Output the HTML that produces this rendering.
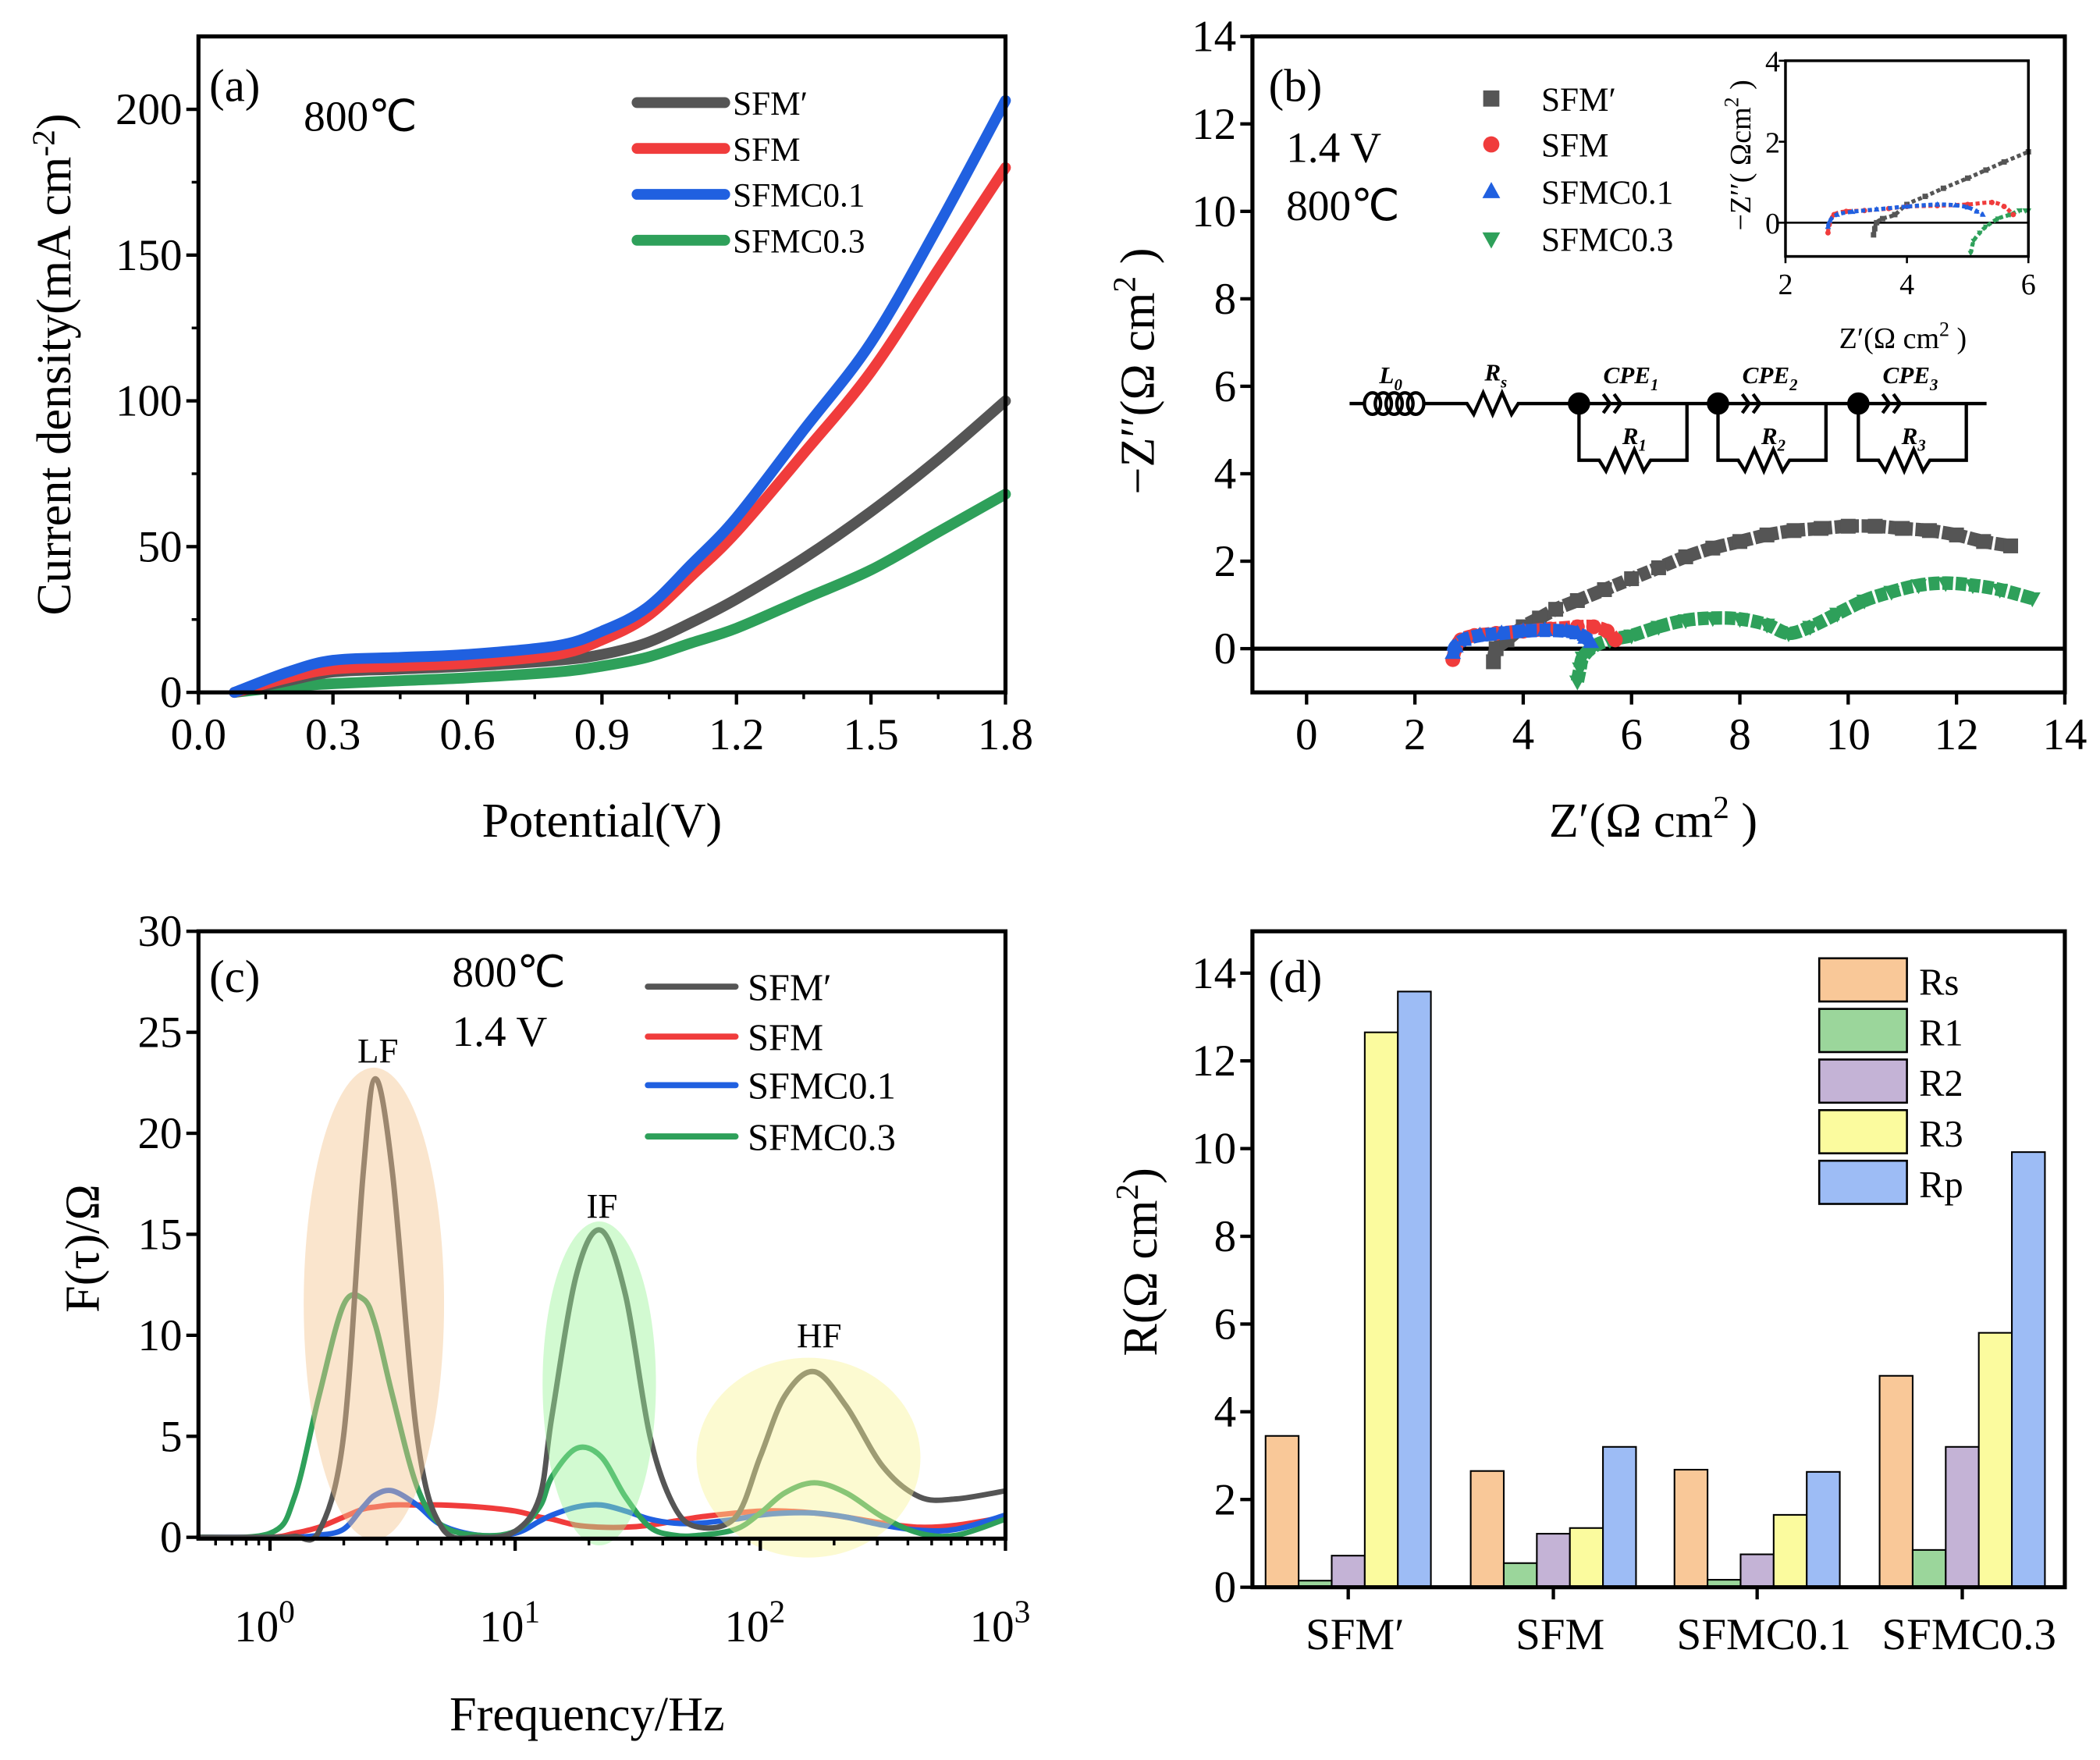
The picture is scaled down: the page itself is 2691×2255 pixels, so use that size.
<!DOCTYPE html>
<html><head><meta charset="utf-8">
<style>
html,body{margin:0;padding:0;background:#fff;}
svg{display:block;font-family:"Liberation Serif",serif;}
</style></head>
<body>
<svg id="fig" width="2691" height="2255" viewBox="0 0 1556 1304" xmlns="http://www.w3.org/2000/svg">
<g id="pa"></g>
<g id="pb"></g>
<g id="pc"></g>
<g id="pd"></g>
</svg>
<script>
// ---------- Panel (a) data ----------
const aSeriesNames = ["SFM′","SFM","SFMC0.1","SFMC0.3"];
const aV = [0.08,0.2,0.3,0.45,0.6,0.8,0.9,1.0,1.1,1.2,1.35,1.5,1.65,1.8];
const aSFMp = [0,4,7,8,9,11,13,17,24,32,46,62,80,100];
const aSFM = [0,5,8,9,10,13,18,26,40,55,82,110,145,180];
const aSFMC01 = [0,7,11,12,13,16,21,29,44,60,90,120,160,203];
const aSFMC03 = [0,2,3,4,5,7,9,12,17,22,32,42,55,68];
const aXTicks = [0,0.3,0.6,0.9,1.2,1.5,1.8];
const aXTickLabels = ["0.0","0.3","0.6","0.9","1.2","1.5","1.8"];
const aYTicks = [0,50,100,150,200];
// ---------- Panel (b) data ----------
const bGrayX = [3.45,3.5,3.7,4.0,4.3,4.6,5.0,5.5,6.0,6.5,7.0,7.5,8.0,8.5,9.0,9.5,10.0,10.5,11.0,11.5,12.0,12.5,13.0];
const bGrayY = [-0.3,0,0.2,0.5,0.7,0.9,1.1,1.35,1.6,1.85,2.1,2.3,2.45,2.6,2.7,2.75,2.8,2.8,2.75,2.7,2.6,2.45,2.35];
const bRedX = [2.7,2.75,2.85,3.1,3.5,4.0,4.5,5.0,5.3,5.55,5.7];
const bRedY = [-0.25,0,0.2,0.3,0.35,0.4,0.45,0.5,0.5,0.4,0.2];
const bBlueX = [2.7,2.75,2.9,3.2,3.6,4.0,4.4,4.8,5.0,5.15,5.25];
const bBlueY = [-0.1,0.05,0.2,0.3,0.35,0.4,0.42,0.4,0.35,0.25,0.15];
const bGreenX = [5.0,5.05,5.1,5.3,5.6,6.0,6.5,7.0,7.5,8.0,8.5,8.9,9.3,9.8,10.3,10.8,11.3,11.8,12.3,12.8,13.4];
const bGreenY = [-0.75,-0.45,-0.2,0.05,0.2,0.3,0.5,0.65,0.7,0.68,0.55,0.35,0.5,0.8,1.1,1.3,1.45,1.5,1.45,1.35,1.15];
const bXTicks = [0,2,4,6,8,10,12,14];
const bYTicks = [0,2,4,6,8,10,12,14];
// inset
const iGrayX = [3.45,3.47,3.5,3.6,3.8,4.0,4.3,4.6,5.0,5.3,5.6,6.0];
const iGrayY = [-0.3,-0.15,0,0.1,0.2,0.45,0.65,0.85,1.1,1.3,1.5,1.75];
const iRedX = [2.7,2.72,2.8,3.0,3.3,3.7,4.0,4.5,5.0,5.4,5.6,5.75];
const iRedY = [-0.25,-0.05,0.2,0.28,0.3,0.35,0.4,0.42,0.45,0.5,0.4,0.2];
const iBlueX = [2.7,2.73,2.85,3.1,3.5,4.0,4.5,4.8,5.0,5.15,5.25];
const iBlueY = [-0.1,0.05,0.2,0.27,0.33,0.4,0.45,0.43,0.38,0.28,0.2];
const iGreenX = [5.05,5.1,5.2,5.3,5.5,5.7,5.85,5.95,6.0];
const iGreenY = [-0.75,-0.45,-0.25,-0.1,0.1,0.2,0.3,0.3,0.3];
// ---------- Panel (c) data ----------
const cLogF = [-0.3,0,0.1,0.2,0.3,0.38,0.43,0.5,0.6,0.7,0.85,1.0,1.1,1.15,1.25,1.35,1.45,1.55,1.65,1.75,1.9,2.0,2.1,2.22,2.35,2.5,2.65,2.8,3.0];
const cSFMp = [0,0,0.05,0.3,5,18,22.7,18,5,0.5,0,0.3,2,6,13,15.2,12,5,1.5,0.5,1,4,7,8.2,6.5,3.5,2,1.9,2.3];
const cSFM = [0,0,0.2,0.5,1,1.4,1.5,1.6,1.6,1.6,1.5,1.3,1.0,0.9,0.6,0.5,0.5,0.6,0.8,1.0,1.2,1.3,1.3,1.2,1.0,0.7,0.5,0.6,1.0];
const cSFMC01 = [0,0,0,0.1,0.4,1.5,2.1,2.3,1.6,0.6,0.1,0.2,0.8,1.1,1.5,1.6,1.3,0.9,0.7,0.7,0.9,1.1,1.2,1.2,1.0,0.6,0.35,0.4,1.1];
const cSFMC03 = [0,0.2,2,7,11.5,11.8,10.5,7,2.5,0.6,0.1,0.3,1.5,3,4.4,4.0,2,0.5,0.1,0.1,0.4,1.2,2.2,2.7,2.2,1.0,0.2,0.1,0.9];
const cYTicks = [0,5,10,15,20,25,30];
const cXTickExp = [0,1,2,3];
// ---------- Panel (d) data ----------
const dGroups = ["SFM′","SFM","SFMC0.1","SFMC0.3"];
const dRs = [3.45,2.65,2.68,4.82];
const dR1 = [0.15,0.55,0.17,0.85];
const dR2 = [0.72,1.22,0.75,3.2];
const dR3 = [12.65,1.35,1.65,5.8];
const dRp = [13.58,3.2,2.63,9.92];
const dSeriesNames = ["Rs","R1","R2","R3","Rp"];
const dYTicks = [0,2,4,6,8,10,12,14];

const NS="http://www.w3.org/2000/svg";
function mk(parent,tag,attrs,text){const e=document.createElementNS(NS,tag);for(const k in attrs)e.setAttribute(k,attrs[k]);if(text!==undefined)e.textContent=text;parent.appendChild(e);return e;}
function lin(d0,d1,r0,r1){return v=>r0+(v-d0)*(r1-r0)/(d1-d0);}
function smoothPath(pts){
  let d="M"+pts[0][0]+","+pts[0][1];
  for(let i=0;i<pts.length-1;i++){
    const p0=pts[i-1]||pts[i],p1=pts[i],p2=pts[i+1],p3=pts[i+2]||p2;
    const c1=[p1[0]+(p2[0]-p0[0])/6,p1[1]+(p2[1]-p0[1])/6];
    const c2=[p2[0]-(p3[0]-p1[0])/6,p2[1]-(p3[1]-p1[1])/6];
    d+=" C"+c1[0]+","+c1[1]+" "+c2[0]+","+c2[1]+" "+p2[0]+","+p2[1];
  }
  return d;
}

// ===== Panel A =====
(function(){
const g=document.getElementById('pa');
const L=147,R=745,T=27,B=513;
const x=lin(0,1.8,L,R), y=lin(0,225,B,T);
const cols=["#555555","#f03c3c","#2060e0","#2ea05a"];
const data=[aSFMp,aSFM,aSFMC01,aSFMC03];
const order=[3,0,1,2];
order.forEach(i=>{
  const p=mk(g,'path',{d:smoothPath(aV.map((v,k)=>[x(v),y(data[i][k])])),fill:'none',stroke:cols[i],'stroke-width':8,'stroke-linecap':'round'});
  
  
});
const f=mk(g,'rect',{x:L,y:T,width:R-L,height:B-T,fill:'none',stroke:'#000','stroke-width':3});


aXTicks.forEach((t,i)=>{
  mk(g,'line',{x1:x(t),x2:x(t),y1:B,y2:B+9,stroke:'#000','stroke-width':2.5});
  const tx=mk(g,'text',{x:x(t),y:B+42,'font-size':33,'text-anchor':'middle'},aXTickLabels[i]);
  
  
});
aYTicks.forEach(t=>{
  mk(g,'line',{x1:L-9,x2:L,y1:y(t),y2:y(t),stroke:'#000','stroke-width':2.5});
  const tx=mk(g,'text',{x:L-12,y:y(t)+11,'font-size':33,'text-anchor':'end'},t);
  
  
});
[25,75,125,175].forEach(t=>mk(g,'line',{x1:L-5,x2:L,y1:y(t),y2:y(t),stroke:'#000','stroke-width':2}));
[0.15,0.45,0.75,1.05,1.35,1.65].forEach(t=>mk(g,'line',{x1:x(t),x2:x(t),y1:B,y2:B+5,stroke:'#000','stroke-width':2}));
let t=mk(g,'text',{x:446,y:620,'font-size':36,'text-anchor':'middle'},'Potential(V)');

t=mk(g,'text',{x:0,y:0,'font-size':36,'text-anchor':'middle',transform:'translate(52,270) rotate(-90)'});
t.innerHTML='Current density(mA cm<tspan dy="-12" font-size="24">-2</tspan><tspan dy="12">)</tspan>';

t=mk(g,'text',{x:155,y:75,'font-size':34},'(a)');
t=mk(g,'text',{x:225,y:97,'font-size':32},'800℃');
const ly=[76,110,144,178];
aSeriesNames.forEach((n,i)=>{
  const l=mk(g,'line',{x1:472,x2:537,y1:ly[i],y2:ly[i],stroke:cols[i],'stroke-width':8,'stroke-linecap':'round'});
  
  const tx=mk(g,'text',{x:543,y:ly[i]+9,'font-size':25},n);
  
});
})();

// ===== Panel B =====
(function(){
const g=document.getElementById('pb');
const L=928,R=1530,T=27,B=513;
const x=lin(-1,14,L,R), y=lin(-1,14,B,T);
const sets=[[bGrayX,bGrayY,'#555555','sq'],[bGreenX,bGreenY,'#2ea05a','tri-down'],[bRedX,bRedY,'#f03c3c','circ'],[bBlueX,bBlueY,'#2060e0','tri']];
const zl=mk(g,'line',{x1:L,x2:R,y1:y(0),y2:y(0),stroke:'#000','stroke-width':3});

function marker(gg,type,cx,cy,c,s){
  let e;
  if(type==='sq')e=mk(gg,'rect',{x:cx-s,y:cy-s,width:2*s,height:2*s,fill:c});
  else if(type==='circ')e=mk(gg,'circle',{cx:cx,cy:cy,r:s,fill:c});
  else if(type==='tri')e=mk(gg,'polygon',{points:`${cx},${cy-s*1.2} ${cx-s*1.1},${cy+s*0.8} ${cx+s*1.1},${cy+s*0.8}`,fill:c});
  else e=mk(gg,'polygon',{points:`${cx},${cy+s*1.2} ${cx-s*1.1},${cy-s*0.8} ${cx+s*1.1},${cy-s*0.8}`,fill:c});
  return e;
}
function drawSets(gg,sets,x,y,s,w,prefix,dash){
  sets.forEach(([xs,ys,c,type])=>{
    const sg=mk(gg,'g',{});
    
    const a={d:smoothPath(xs.map((v,k)=>[x(v),y(ys[k])])),fill:'none',stroke:c,'stroke-width':w};
    if(dash)a['stroke-dasharray']=dash;
    mk(sg,'path',a);
    xs.forEach((v,k)=>{
      const m=marker(sg,type,x(v),y(ys[k]),c,s);
      
    });
  });
}
drawSets(g,sets,x,y,5.5,10,'nyquist','8 2');
const f=mk(g,'rect',{x:L,y:T,width:R-L,height:B-T,fill:'none',stroke:'#000','stroke-width':3});

bXTicks.forEach(t=>{
  mk(g,'line',{x1:x(t),x2:x(t),y1:B,y2:B+9,stroke:'#000','stroke-width':2.5});
  const tx=mk(g,'text',{x:x(t),y:B+42,'font-size':33,'text-anchor':'middle'},t);
  
});
bYTicks.forEach(t=>{
  mk(g,'line',{x1:L-9,x2:L,y1:y(t),y2:y(t),stroke:'#000','stroke-width':2.5});
  const tx=mk(g,'text',{x:L-12,y:y(t)+11,'font-size':33,'text-anchor':'end'},t);
  
});
let t=mk(g,'text',{x:1225,y:620,'font-size':36,'text-anchor':'middle'});
t.innerHTML='Z′(Ω cm<tspan dy="-14" font-size="24">2</tspan><tspan dy="14"> )</tspan>';

t=mk(g,'text',{x:0,y:0,'font-size':36,'text-anchor':'middle',transform:'translate(855,275) rotate(-90)'});
t.innerHTML='−Z′′(Ω cm<tspan dy="-14" font-size="24">2</tspan><tspan dy="14"> )</tspan>';

t=mk(g,'text',{x:940,y:75,'font-size':34},'(b)');
t=mk(g,'text',{x:953,y:120,'font-size':32},'1.4 V');
t=mk(g,'text',{x:953,y:163,'font-size':32},'800℃');
const names=["SFM′","SFM","SFMC0.1","SFMC0.3"],mt=['sq','circ','tri','tri-down'],mc=['#555555','#f03c3c','#2060e0','#2ea05a'],ly=[73,107,142,177];
names.forEach((n,i)=>{
  const m=marker(g,mt[i],1105,ly[i],mc[i],6);
  
  const tx=mk(g,'text',{x:1142,y:ly[i]+9,'font-size':25},n);
  
});
// inset
const ig=mk(g,'g',{});
const iL=1323,iR=1503,iT=45,iB=190;
const ix=lin(2,6,iL,iR), iy=lin(0,4,165,iT);
mk(ig,'line',{x1:iL,x2:iR,y1:iy(0),y2:iy(0),stroke:'#000','stroke-width':1.5});
drawSets(ig,[[iGrayX,iGrayY,'#555555','sq'],[iGreenX,iGreenY,'#2ea05a','tri-down'],[iRedX,iRedY,'#f03c3c','circ'],[iBlueX,iBlueY,'#2060e0','tri']],ix,iy,2,3,'inset','3 2');
mk(ig,'rect',{x:iL,y:iT,width:iR-iL,height:iB-iT,fill:'none',stroke:'#000','stroke-width':2});
[2,4,6].forEach(v=>{mk(ig,'line',{x1:ix(v),x2:ix(v),y1:iB,y2:iB+5,stroke:'#000','stroke-width':1.5});
  const tx=mk(ig,'text',{x:ix(v),y:iB+28,'font-size':22,'text-anchor':'middle'},v);});
[0,2,4].forEach(v=>{mk(ig,'line',{x1:iL-5,x2:iL,y1:iy(v),y2:iy(v),stroke:'#000','stroke-width':1.5});
  const tx=mk(ig,'text',{x:iL-4,y:iy(v)+8,'font-size':22,'text-anchor':'end'},v);});
t=mk(ig,'text',{x:1410,y:258,'font-size':22,'text-anchor':'middle'});
t.innerHTML='Z′(Ω cm<tspan dy="-9" font-size="15">2</tspan><tspan dy="9"> )</tspan>';

t=mk(ig,'text',{x:0,y:0,'font-size':22,'text-anchor':'middle',transform:'translate(1297,115) rotate(-90)'});
t.innerHTML='−Z′′( Ωcm<tspan dy="-9" font-size="15">2</tspan><tspan dy="9"> )</tspan>';

// circuit
const cg=mk(g,'g',{fill:'none',stroke:'#000','stroke-width':2.5});

const cy=299;
mk(cg,'line',{x1:1000,x2:1010,y1:cy,y2:cy});
for(let k=0;k<5;k++)mk(cg,'ellipse',{cx:1017+k*8,cy:cy,rx:6,ry:8});
mk(cg,'path',{d:'M1056,'+cy+' H1087 l5,8 l7,-16 l7,16 l7,-16 l7,16 l5,-8 H1472'});
const blocks=[1170,1273,1377];
blocks.forEach((bx,k)=>{
  mk(cg,'circle',{cx:bx,cy:cy,r:7,fill:'#000'});
  mk(cg,'path',{d:`M${bx+18},${cy-7} l5,7 l-5,7 M${bx+26},${cy-7} l5,7 l-5,7`});
  mk(cg,'path',{d:`M${bx},${cy} V${cy+42} H${bx+15} l5,8 l7,-16 l7,16 l7,-16 l7,16 l5,-8 H${bx+80} V${cy}`});
  const a=mk(g,'text',{x:bx+18,y:cy-15,'font-size':18,'font-weight':'bold','font-style':'italic'});
  a.innerHTML='CPE<tspan dy="5" font-size="12">'+(k+1)+'</tspan>';
  
  const r=mk(g,'text',{x:bx+32,y:cy+30,'font-size':18,'font-weight':'bold','font-style':'italic'});
  r.innerHTML='R<tspan dy="5" font-size="12">'+(k+1)+'</tspan>';
  
});
let a=mk(g,'text',{x:1022,y:284,'font-size':18,'font-weight':'bold','font-style':'italic'});a.innerHTML='L<tspan dy="5" font-size="12">0</tspan>';

a=mk(g,'text',{x:1100,y:282,'font-size':18,'font-weight':'bold','font-style':'italic'});a.innerHTML='R<tspan dy="5" font-size="12">s</tspan>';

})();

// ===== Panel C =====
(function(){
const g=document.getElementById('pc');
const L=147,R=745,T=690,B=1140;
const x=lin(0,3,200,745), y=lin(0,30,1139,T);
const cols=["#555555","#f03c3c","#2060e0","#2ea05a"];
const data=[cSFMp,cSFM,cSFMC01,cSFMC03];
const names=["SFM′","SFM","SFMC0.1","SFMC0.3"];
[1,2,3,0].forEach(i=>{
  const p=mk(g,'path',{d:smoothPath(cLogF.map((v,k)=>[x(v),y(data[i][k])])),fill:'none',stroke:cols[i],'stroke-width':4});
  
});
let e=mk(g,'ellipse',{cx:277,cy:966,rx:52,ry:175,fill:'#f5c590',opacity:0.45});
e=mk(g,'ellipse',{cx:444,cy:1025,rx:42,ry:120,fill:'#9cf59a',opacity:0.45});
e=mk(g,'ellipse',{cx:599,cy:1080,rx:83,ry:74,fill:'#f8f59a',opacity:0.45});
const f=mk(g,'rect',{x:L,y:T,width:R-L,height:B-T,fill:'none',stroke:'#000','stroke-width':3});

cXTickExp.forEach(t=>{
  mk(g,'line',{x1:x(t),x2:x(t),y1:B,y2:B+9,stroke:'#000','stroke-width':2.5});
  const tx=mk(g,'text',{x:x(t)-4,y:B+76,'font-size':33,'text-anchor':'middle'});
  tx.innerHTML='10<tspan dy="-14" font-size="24">'+t+'</tspan>';
  
});
for(let dec=-1;dec<3;dec++)for(let m=2;m<10;m++){const lv=dec+Math.log10(m);if(lv>-0.29&&lv<3)mk(g,'line',{x1:x(lv),x2:x(lv),y1:B,y2:B+5,stroke:'#000','stroke-width':2});}
cYTicks.forEach(t=>{
  mk(g,'line',{x1:L-9,x2:L,y1:y(t),y2:y(t),stroke:'#000','stroke-width':2.5});
  const tx=mk(g,'text',{x:L-12,y:y(t)+11,'font-size':33,'text-anchor':'end'},t);
  
});
let t=mk(g,'text',{x:435,y:1282,'font-size':36,'text-anchor':'middle'},'Frequency/Hz');

t=mk(g,'text',{x:0,y:0,'font-size':36,'text-anchor':'middle',transform:'translate(73,925) rotate(-90)'},'F(τ)/Ω');

t=mk(g,'text',{x:155,y:735,'font-size':34},'(c)');
t=mk(g,'text',{x:335,y:731,'font-size':32},'800℃');
t=mk(g,'text',{x:335,y:775,'font-size':32},'1.4 V');
[['LF',280,787],['IF',446,902],['HF',607,998]].forEach(([s,xx,yy])=>{const tt=mk(g,'text',{x:xx,y:yy,'font-size':26,'text-anchor':'middle'},s);});
const ly=[731,768,804,842];
names.forEach((n,i)=>{
  const l=mk(g,'line',{x1:480,x2:545,y1:ly[i],y2:ly[i],stroke:cols[i],'stroke-width':4.5,'stroke-linecap':'round'});
  
  const tx=mk(g,'text',{x:554,y:ly[i]+10,'font-size':28},n);
  
});
})();

// ===== Panel D =====
(function(){
const g=document.getElementById('pd');
const L=928,R=1530,T=690,B=1176;
const y=lin(0,14,B,B-14*32.5);
const centers=[999,1151,1302,1454];
const bw=24.5;
const cols=["#f9c898","#9bd69b","#c4b3d6","#fbfb9e","#9dbcf5"];
const series=[dRs,dR1,dR2,dR3,dRp];
series.forEach((s,si)=>{
  s.forEach((v,gi)=>{
    const r=mk(g,'rect',{x:centers[gi]-2.5*bw+si*bw,y:y(v),width:bw,height:B-y(v),fill:cols[si],stroke:'#000','stroke-width':1.2});
    
    
  });
});
const f=mk(g,'rect',{x:L,y:T,width:R-L,height:B-T,fill:'none',stroke:'#000','stroke-width':3});

dGroups.forEach((n,i)=>{
  mk(g,'line',{x1:centers[i],x2:centers[i],y1:B,y2:B+9,stroke:'#000','stroke-width':2.5});
  const tx=mk(g,'text',{x:centers[i]+5,y:B+46,'font-size':33,'text-anchor':'middle'},n);
  
});
dYTicks.forEach(t=>{
  mk(g,'line',{x1:L-9,x2:L,y1:y(t),y2:y(t),stroke:'#000','stroke-width':2.5});
  const tx=mk(g,'text',{x:L-12,y:y(t)+11,'font-size':33,'text-anchor':'end'},t);
  
});
let t=mk(g,'text',{x:0,y:0,'font-size':36,'text-anchor':'middle',transform:'translate(857,935) rotate(-90)'});
t.innerHTML='R(Ω cm<tspan dy="-14" font-size="24">2</tspan><tspan dy="14">)</tspan>';

t=mk(g,'text',{x:940,y:735,'font-size':34},'(d)');
dSeriesNames.forEach((n,i)=>{
  const r=mk(g,'rect',{x:1348,y:710+i*37.5,width:65,height:32,fill:cols[i],stroke:'#000','stroke-width':1.5});
  
  const tx=mk(g,'text',{x:1422,y:737+i*37.5,'font-size':28},n);
  
});
})();
</script>
</body></html>
